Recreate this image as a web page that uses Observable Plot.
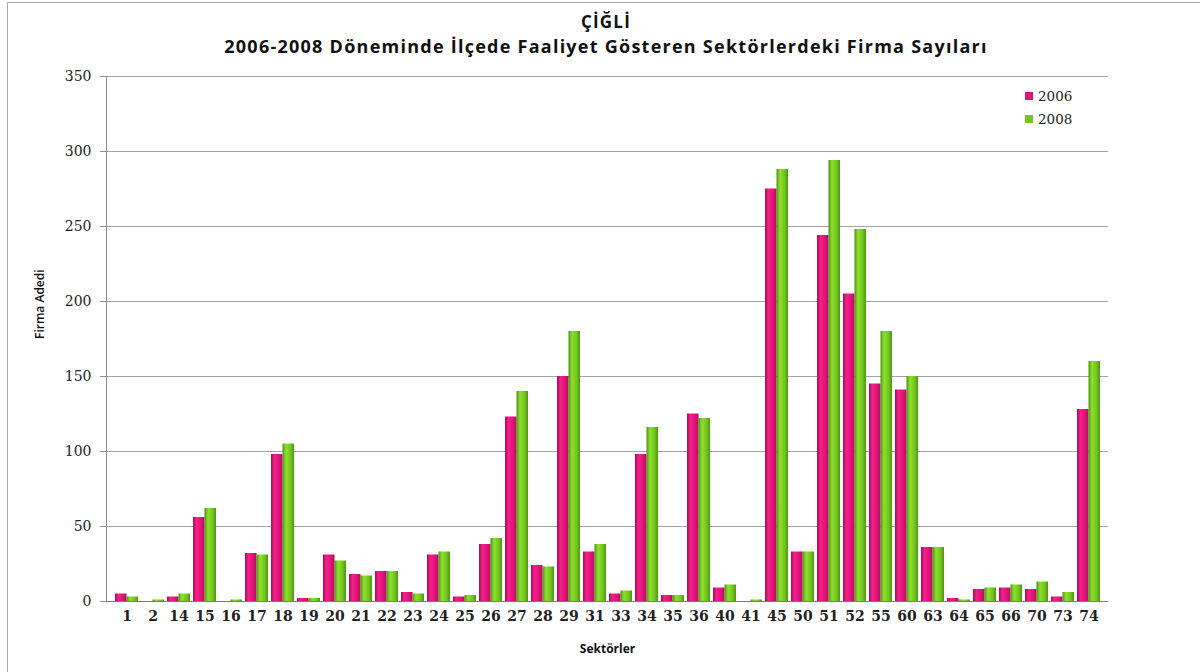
<!DOCTYPE html>
<html>
<head>
<meta charset="utf-8">
<script src="https://cdn.jsdelivr.net/npm/d3@7"></script>
<script src="https://cdn.jsdelivr.net/npm/@observablehq/plot@0.6"></script>
<style>
  html, body { margin: 0; padding: 0; background: #fff; }
  #wrap { position: relative; width: 1200px; height: 672px; overflow: hidden; background: #fff; }
  #frame { position: absolute; left: 7px; top: 2px; width: 1200px; height: 700px; border-left: 1.5px solid #a8a8a8; border-top: 1.5px solid #a8a8a8; }
  .title { position: absolute; left: 0; width: 1212px; text-align: center; font-family: "Open Sans", sans-serif; font-weight: bold; color: #111; white-space: nowrap; }
  #t1 { top: 10px; font-size: 17px; letter-spacing: 1.2px; }
  #t2 { top: 34px; font-size: 18px; letter-spacing: 1.25px; }
  #chart { position: absolute; left: 0; top: 60px; }
  #legend { position: absolute; left: 1025px; top: 84px; font-family: "DejaVu Serif", serif; font-size: 13.5px; color: #222; }
  #legend div { height: 23px; line-height: 18px; display: flex; align-items: center; }
  #legend span.sw { display: inline-block; width: 8px; height: 8px; margin-right: 5px; }
</style>
</head>
<body>
<div id="wrap">
  <div id="frame"></div>
  <div class="title" id="t1">ÇİĞLİ</div>
  <div class="title" id="t2">2006-2008 Döneminde İlçede Faaliyet Gösteren Sektörlerdeki Firma Sayıları</div>
  <div id="chart"></div>
  <div id="legend"></div>
</div>
<script>
// ---- data ----
const sectors = ["1","2","14","15","16","17","18","19","20","21","22","23","24","25","26","27","28","29","31","33","34","35","36","40","41","45","50","51","52","55","60","63","64","65","66","70","73","74"];
const v2006 = [5,0,3,56,0,32,98,2,31,18,20,6,31,3,38,123,24,150,33,5,98,4,125,9,0,275,33,244,205,145,141,36,2,8,9,8,3,128];
const v2008 = [3,1,5,62,1,31,105,2,27,17,20,5,33,4,42,140,23,180,38,7,116,4,122,11,1,288,33,294,248,180,150,36,1,9,11,13,6,160];
const years = ["2006", "2008"];
const yTicks = [0, 50, 100, 150, 200, 250, 300, 350];
const pinkStops = ["#a80c57", "#f4208a", "#e0137a", "#b20d5d"];
const greenStops = ["#4c9010", "#8ee030", "#72c61c", "#4f9612"];

const rows06 = sectors.map((s, i) => ({sector: s, value: v2006[i]}));
const rows08 = sectors.map((s, i) => ({sector: s, value: v2008[i]}));

const chart = Plot.plot({
  width: 1200,
  height: 612,
  marginTop: 16,
  marginBottom: 71,
  marginLeft: 106,
  marginRight: 92,
  style: {fontFamily: "DejaVu Serif, serif", fontSize: "13.5px", color: "#222", background: "transparent"},
  x: {domain: sectors, paddingInner: 0.13, paddingOuter: 0.065, label: null},
  y: {domain: [0, 350], label: null},
  marks: [
    Plot.gridY(yTicks, {stroke: "#a3a3a3", strokeOpacity: 1, strokeWidth: 1}),
    Plot.barY(rows06, {x: "sector", y: "value", fill: "url(#gPink)", insetRight: 11.5}),
    Plot.barY(rows08, {x: "sector", y: "value", fill: "url(#gGreen)", insetLeft: 11.5}),
    Plot.ruleY([0], {stroke: "#7a7a7a"}),
    Plot.frame({anchor: "left", stroke: "#8c8c8c"}),
    Plot.axisY({ticks: yTicks, tickSize: 6, tickPadding: 9, stroke: "#8c8c8c", fontSize: 14, label: null}),
    Plot.axisX({tickSize: 0, tickPadding: 10, label: null, fontSize: 14, fontWeight: "bold"}),
    Plot.text(["Sektörler"], {frameAnchor: "bottom", dy: 51, fontFamily: "Open Sans, sans-serif", fontWeight: "bold", fontSize: 12, fill: "#111"}),
    Plot.text(["Firma Adedi"], {frameAnchor: "left", dx: -66, rotate: -90, fontFamily: "Open Sans, sans-serif", fontWeight: "600", fontSize: 12, fill: "#111"})
  ]
});

// gradients for the bar fills
const ns = "http://www.w3.org/2000/svg";
const defs = document.createElementNS(ns, "defs");
function addGrad(id, stops) {
  const g = document.createElementNS(ns, "linearGradient");
  g.setAttribute("id", id);
  g.setAttribute("x1", "0"); g.setAttribute("x2", "1"); g.setAttribute("y1", "0"); g.setAttribute("y2", "0");
  const offs = [0, 0.3, 0.7, 1];
  stops.forEach((c, i) => {
    const s = document.createElementNS(ns, "stop");
    s.setAttribute("offset", offs[i]);
    s.setAttribute("stop-color", c);
    g.appendChild(s);
  });
  defs.appendChild(g);
}
addGrad("gPink", pinkStops);
addGrad("gGreen", greenStops);
chart.insertBefore(defs, chart.firstChild);
document.getElementById("chart").appendChild(chart);

// legend
const legend = document.getElementById("legend");
years.forEach((y, i) => {
  const row = document.createElement("div");
  const sw = document.createElement("span");
  sw.className = "sw";
  sw.style.background = i === 0 ? "#e0137a" : "#72c61c";
  row.appendChild(sw);
  row.appendChild(document.createTextNode(y));
  legend.appendChild(row);
});
</script>
</body>
</html>
